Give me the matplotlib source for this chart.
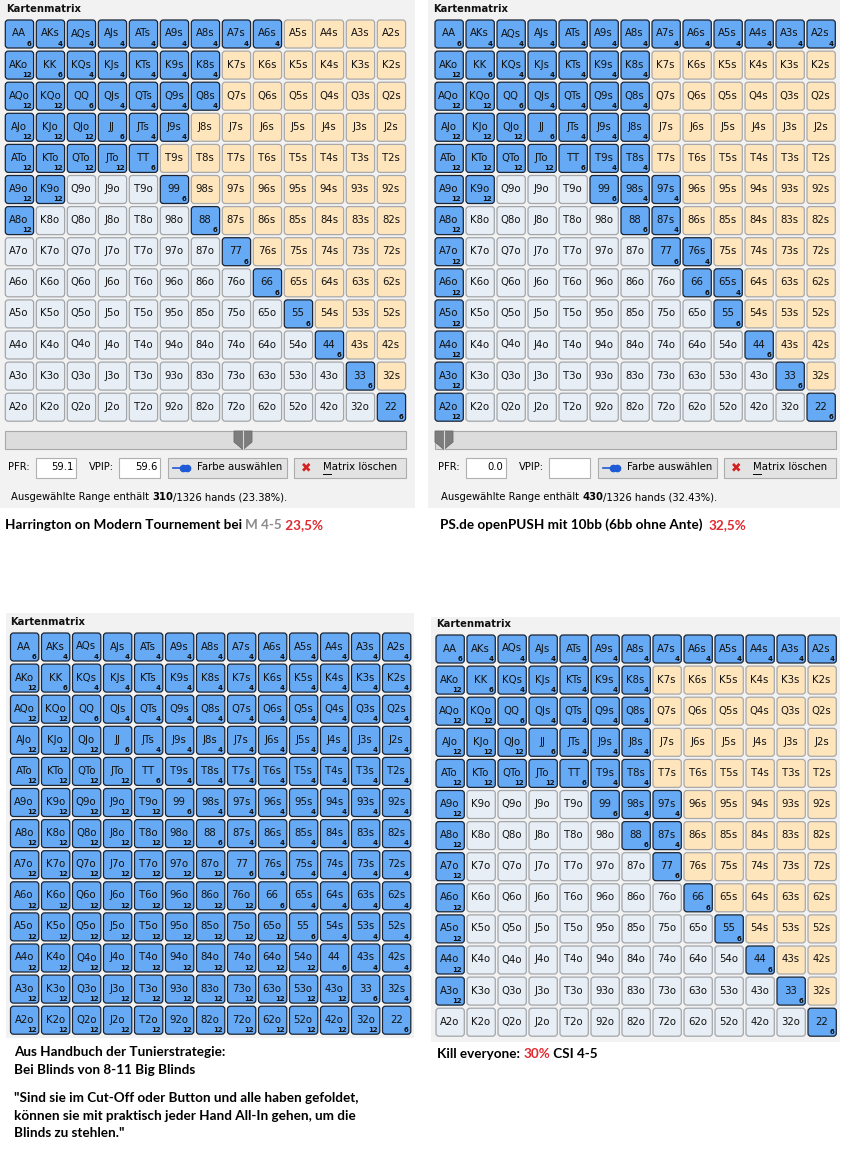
import matplotlib
matplotlib.use("Agg")
import matplotlib.pyplot as plt
from matplotlib.patches import FancyBboxPatch, Rectangle, Polygon

ranks = ['A', 'K', 'Q', 'J', 'T', '9', '8', '7', '6', '5', '4', '3', '2']
combos = {'pair': 6, 'suited': 4, 'offsuit': 12}

# 1 = hand in range; row = first rank, above the diagonal = suited
harrington_sel = [
    "1111111110000",
    "1111111000000",
    "1111111000000",
    "1111110000000",
    "1111100000000",
    "1100010000000",
    "1000001000000",
    "0000000100000",
    "0000000010000",
    "0000000001000",
    "0000000000100",
    "0000000000010",
    "0000000000001",
]
openpush_sel = [
    "1111111111111",
    "1111111000000",
    "1111111000000",
    "1111111000000",
    "1111111000000",
    "1100011100000",
    "1000001100000",
    "1000000110000",
    "1000000011000",
    "1000000001000",
    "1000000000100",
    "1000000000010",
    "1000000000001",
]
handbuch_sel = ["1111111111111"] * 13
kill_sel = [
    "1111111111111",
    "1111111000000",
    "1111111000000",
    "1111111000000",
    "1111111000000",
    "1000011100000",
    "1000001100000",
    "1000000100000",
    "1000000010000",
    "1000000001000",
    "1000000000100",
    "1000000000010",
    "0000000000001",
]

pfr_values = ['59.1', '0.0']
vpip_values = ['59.6', '']
range_hands = [310, 430]
range_pct = ['23.38%', '32.43%']
total_hands = 1326

captions = [
    [("Harrington on Modern Tournement bei ", 'black'), ("M 4-5", '#8a8a8a'), (" 23,5%", '#e0282e')],
    [("PS.de openPUSH mit 10bb (6bb ohne Ante)  ", 'black'), ("32,5%", '#e0282e')],
    [("Aus Handbuch der Tunierstrategie:", 'black')],
    [("Kill everyone: ", 'black'), ("30%", '#e0282e'), (" CSI 4-5", 'black')],
]
quote_lines = [
    "Bei Blinds von 8-11 Big Blinds",
    "\"Sind sie im Cut-Off oder Button und alle haben gefoldet,",
    "können sie mit praktisch jeder Hand All-In gehen, um die",
    "Blinds zu stehlen.\"",
]

BLUE = '#66aaf6'
YELLOW = '#ffe5bc'
GREY = '#e8eef5'
PANEL = '#f2f2f2'
CW, CH = 28.3, 28.0
PX, PY = 31.0, 31.1

fig = plt.figure(figsize=(8.5, 11.58), dpi=100)
ax = fig.add_axes([0, 0, 1, 1])
ax.set_xlim(0, 850)
ax.set_ylim(1158, 0)
ax.axis('off')
renderer = fig.canvas.get_renderer()


def hand_label(i, j):
    if i == j:
        return ranks[i] * 2, 'pair'
    if j > i:
        return ranks[i] + ranks[j] + 's', 'suited'
    return ranks[j] + ranks[i] + 'o', 'offsuit'


def draw_matrix(x0, y0, sel):
    for i in range(13):
        for j in range(13):
            label, kind = hand_label(i, j)
            on = sel[i][j] == '1'
            x = x0 + j * PX
            y = y0 + i * PY
            if on:
                fc, ec = BLUE, '#1b2535'
            elif kind == 'suited':
                fc, ec = YELLOW, '#a9a9a9'
            else:
                fc, ec = GREY, '#a3a6aa'
            ax.add_patch(FancyBboxPatch((x, y), CW, CH,
                                        boxstyle="round,pad=0,rounding_size=3",
                                        fc=fc, ec=ec, lw=0.9))
            ax.text(x + CW / 2 - 0.5, y + CH / 2 - 0.5, label, ha='center',
                    va='center', fontsize=7.3, color='#111111')
            if on:
                ax.text(x + CW - 2, y + CH - 1.2, str(combos[kind]), ha='right',
                        va='bottom', fontsize=5, fontweight='bold', color='#111111')


def draw_pieces(x, y, pieces, size=9.7):
    for s, c in pieces:
        t = ax.text(x, y, s, ha='left', va='center', fontsize=size,
                    fontweight='bold', family=['Lato', 'DejaVu Sans'], color=c)
        x += t.get_window_extent(renderer).width


def draw_controls(x0, k, thumb_x):
    # slider
    ax.add_patch(Rectangle((x0, 430.5), 401, 18.5, fc='#dcdcdc', ec='#a8a8a8', lw=0.8))
    cx = thumb_x
    ax.add_patch(Polygon([(cx - 9, 431), (cx + 9, 431), (cx + 9, 442), (cx, 449.5),
                          (cx - 9, 442)], closed=True, fc='#7d7d7d', ec='#6a6a6a', lw=0.6))
    ax.plot([cx, cx], [431, 449], color='#d8d8d8', lw=0.8)
    # PFR / VPIP
    ax.text(x0 + 3, 467, 'PFR:', ha='left', va='center', fontsize=7.2)
    ax.add_patch(Rectangle((x0 + 31, 457.5), 40, 20.5, fc='white', ec='#b0b0b0', lw=0.8))
    ax.text(x0 + 68, 466.5, pfr_values[k], ha='right', va='center', fontsize=7.2)
    ax.text(x0 + 84, 467, 'VPIP:', ha='left', va='center', fontsize=7.2)
    ax.add_patch(Rectangle((x0 + 114, 457.5), 41, 20.5, fc='white', ec='#b0b0b0', lw=0.8))
    ax.text(x0 + 152, 466.5, vpip_values[k], ha='right', va='center', fontsize=7.2)
    # buttons
    bx = x0 + 163
    ax.add_patch(Rectangle((bx, 457.5), 119, 20.5, fc='#e3e3e3', ec='#adadad', lw=0.8))
    ax.plot([bx + 5, bx + 13], [467.5, 467.5], color='#1e5ad6', lw=1.2)
    ax.plot([bx + 15, bx + 19], [467.5, 467.5], 'o', ms=4.5, color='#1e5ad6')
    ax.text(bx + 29, 467, 'Farbe auswählen', ha='left', va='center', fontsize=7.3)
    bx2 = x0 + 289
    ax.add_patch(Rectangle((bx2, 457.5), 112, 20.5, fc='#e3e3e3', ec='#adadad', lw=0.8))
    ax.text(bx2 + 12, 467.5, '\u2716', ha='center', va='center', fontsize=9, color='#d42020')
    ax.text(bx2 + 29, 467, 'Matrix löschen', ha='left', va='center', fontsize=7.3)
    ax.plot([bx2 + 29, bx2 + 37], [473.5, 473.5], color='black', lw=0.7)
    # summary line
    pieces = [("Ausgewählte Range enthält ", 'normal'), (str(range_hands[k]), 'bold'),
              ("/%d hands (%s)." % (total_hands, range_pct[k]), 'normal')]
    x = x0 + 6
    for s, w in pieces:
        t = ax.text(x, 497, s, ha='left', va='center', fontsize=7.2, fontweight=w)
        x += t.get_window_extent(renderer).width


# panel backgrounds
ax.add_patch(Rectangle((0, 0), 415, 508, fc=PANEL, ec='none'))
ax.add_patch(Rectangle((428, 0), 412, 508, fc=PANEL, ec='none'))
ax.add_patch(Rectangle((6, 613), 408, 425, fc=PANEL, ec='none'))
ax.add_patch(Rectangle((431, 617), 409, 425, fc=PANEL, ec='none'))

titles = [(6, 9), (433, 9), (10, 622), (436, 624)]
for tx, ty in titles:
    ax.text(tx, ty, 'Kartenmatrix', ha='left', va='center', fontsize=7.2,
            fontweight='bold', color='#111111')

draw_matrix(5.3, 20, harrington_sel)
draw_matrix(435, 20, openpush_sel)
draw_matrix(10.5, 633, handbuch_sel)
draw_matrix(436, 635, kill_sel)

draw_controls(5.3, 0, 243)
draw_controls(435, 1, 444)

draw_pieces(5, 525, captions[0])
draw_pieces(440, 525, captions[1])
draw_pieces(14, 1052, captions[2])
quote_y = [1070, 1098, 1115.5, 1133]
for line, ly in zip(quote_lines, quote_y):
    draw_pieces(14, ly, [(line, 'black')])
draw_pieces(437, 1054, captions[3])

fig.savefig('out.png', dpi=100, facecolor='white')
